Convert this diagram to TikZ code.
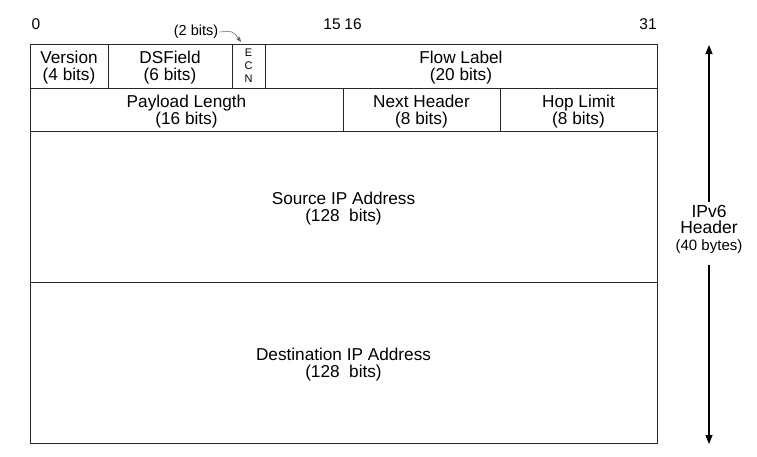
\documentclass[tikz,border=0pt]{standalone}
\usepackage{fontspec}
\setmainfont{Liberation Sans}
\usetikzlibrary{arrows.meta}

\begin{document}
\begin{tikzpicture}[x=1pt,y=-1pt,
    field/.style={draw=black!85, line width=0.9pt, inner sep=0pt, align=center, text depth=-1.5pt,
                  font=\fontsize{17.2}{17}\selectfont},
    bitno/.style={font=\fontsize{15.5}{15}\selectfont},
    hdrarrow/.style={draw=black!60, line width=1.1pt, -{Triangle[length=9pt,width=7pt]}, black},
    notearrow/.style={draw=black!60, line width=0.6pt, -{Triangle[length=5pt,width=4pt]}}]
\useasboundingbox (0,0) rectangle (757,456);

% Bit positions
\foreach \x/\lab/\nm in {36/0/b0, 332/15/b15, 353/16/b16, 648/31/b31} {
    \node[bitno] (\nm) at (\x,24) {\lab};
}

% Row 1
\node[field, minimum width=78, minimum height=44] (ver) at (69,66) {Version\\(4 bits)};
\node[field, minimum width=124, minimum height=44] (dsf) at (170,66) {DSField\\(6 bits)};
\node[field, minimum width=33, minimum height=44, text height=23pt, text depth=16pt,
      font=\fontsize{11}{13}\selectfont] (ecn) at (248.5,66)
    {\begin{tabular}{@{}c@{}}E\\C\\N\end{tabular}};
\node[field, minimum width=392, minimum height=44] (flow) at (461,66) {Flow Label\\(20 bits)};

% Row 2
\node[field, minimum width=313, minimum height=43] (plen) at (186.5,109.5) {Payload Length\\(16 bits)};
\node[field, minimum width=157, minimum height=43] (nxt) at (421.5,109.5) {Next Header\\(8 bits)};
\node[field, minimum width=157, minimum height=43] (hop) at (578.5,109.5) {Hop Limit\\(8 bits)};

% Addresses
\node[field, minimum width=627, minimum height=151] (src) at (343.5,206.5) {Source IP Address\\(128\ \ bits)};
\node[field, minimum width=627, minimum height=161] (dst) at (343.5,362.5) {Destination IP Address\\(128\ \ bits)};

% ECN note
\node[font=\fontsize{14.5}{15}\selectfont, inner xsep=1pt] (ecnnote) at (196,32) {(2 bits)};
\coordinate (ecntip) at (241,42);
\draw[notearrow] (ecnnote.east) .. controls (233,31) .. (ecntip);

% Header size
\node[align=center, inner xsep=0pt, inner ysep=3pt, font=\fontsize{17.5}{16.5}\selectfont] (hdr) at (709,229)
    {IPv6\\Header\\{\fontsize{15}{15}\selectfont(40 bytes)}};
\coordinate (hdrtop) at (709,45);
\coordinate (hdrbot) at (709,444);
\draw[hdrarrow] (hdr.north) -- (hdrtop);
\draw[hdrarrow, shorten <=9pt] (hdr.south) -- (hdrbot);
\end{tikzpicture}
\end{document}
